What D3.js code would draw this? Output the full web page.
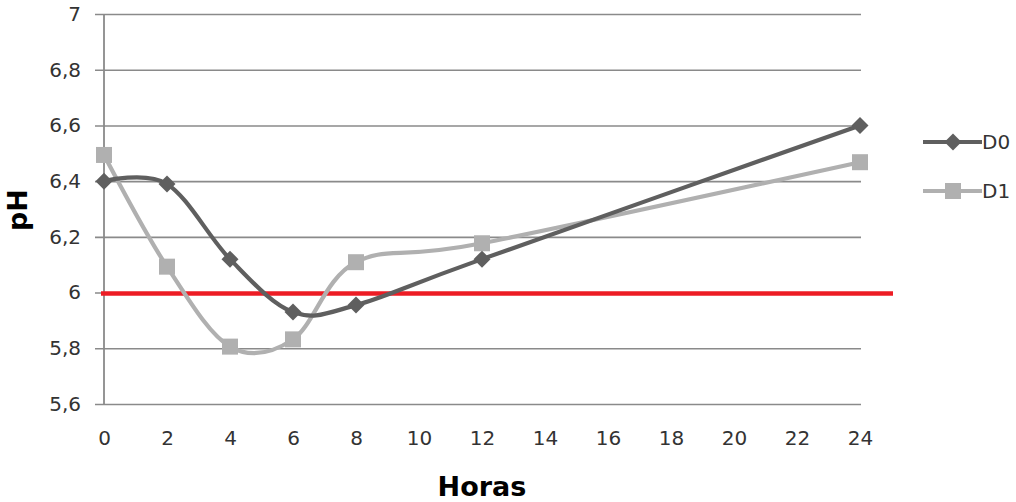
<!DOCTYPE html>
<html>
<head>
<meta charset="utf-8">
<script src="https://cdn.jsdelivr.net/npm/d3@7"></script>
<style>
  html, body { margin: 0; padding: 0; background: #fff; }
  svg { display: block; }
  text { font-family: "DejaVu Sans", Verdana, sans-serif; }
</style>
</head>
<body>
<svg id="chart" width="1016" height="502"></svg>
<script>
// pH readings over time (hours)
const hours = [0, 2, 4, 6, 8, 12, 24];
const d0 = [6.40, 6.39, 6.12, 5.93, 5.955, 6.12, 6.60];
const d1 = [6.494, 6.093, 5.806, 5.832, 6.109, 6.177, 6.468];
const seriesNames = ["D0", "D1"];
const xTicks = [0, 2, 4, 6, 8, 10, 12, 14, 16, 18, 20, 22, 24];
const yTicks = [5.6, 5.8, 6, 6.2, 6.4, 6.6, 6.8, 7];
const thresholdPH = 6;

const svg = d3.select("#chart");

const x = d3.scaleLinear().domain([0, 24]).range([104, 860]);
const y = d3.scaleLinear().domain([5.6, 7]).range([404, 14]);

const fmt = v => String(+v.toFixed(1)).replace(".", ",");

// horizontal gridlines with short outward ticks
const yAxis = d3.axisLeft(y)
  .tickValues(yTicks)
  .tickSize(-(860 - 104) - 1)
  .tickPadding(0)
  .tickFormat(fmt);

const gy = svg.append("g").attr("transform", "translate(104,0)").call(yAxis);
gy.select(".domain").remove();
gy.selectAll(".tick line")
  .attr("x1", -9)
  .attr("stroke", "#8a8a8a")
  .attr("stroke-width", 1.6);
gy.selectAll(".tick text")
  .attr("x", -23)
  .attr("fill", "#333")
  .style("font-size", "20px");

// vertical axis line
svg.append("line")
  .attr("x1", x(0)).attr("x2", x(0))
  .attr("y1", y(7)).attr("y2", y(5.6) + 0.5)
  .attr("stroke", "#8a8a8a")
  .attr("stroke-width", 1.8);

// x tick labels (no tick marks)
const xAxis = d3.axisBottom(x)
  .tickValues(xTicks)
  .tickSize(0)
  .tickPadding(27)
  .tickFormat(d => d);
const gx = svg.append("g").attr("transform", `translate(0,${y(5.6)})`).call(xAxis);
gx.select(".domain").remove();
gx.selectAll(".tick text")
  .attr("fill", "#333")
  .style("font-size", "20px");

// threshold line at pH 6
svg.append("line")
  .attr("x1", 101).attr("x2", 893)
  .attr("y1", y(thresholdPH) + 1).attr("y2", y(thresholdPH) + 1)
  .attr("stroke", "#ed1c24")
  .attr("stroke-width", 4.5);

const curve = d3.curveCardinal.tension(0);
const line = d3.line().curve(curve).x(d => x(d[0])).y(d => y(d[1]));

const series = [
  { name: seriesNames[0], values: d0, color: "#5f5f5f", marker: "diamond" },
  { name: seriesNames[1], values: d1, color: "#b0b0b0", marker: "square" }
];

function drawMarker(g, type, cx, cy, color) {
  if (type === "diamond") {
    const r = 8.5;
    g.append("path")
      .attr("d", `M${cx},${cy - r}L${cx + r},${cy}L${cx},${cy + r}L${cx - r},${cy}Z`)
      .attr("fill", color);
  } else {
    const s = 16;
    g.append("rect")
      .attr("x", cx - s / 2).attr("y", cy - s / 2)
      .attr("width", s).attr("height", s)
      .attr("fill", color);
  }
}

// draw D1 first so D0 sits on top where they overlap
[series[1], series[0]].forEach(s => {
  const pts = hours.map((h, i) => [h, s.values[i]]);
  const g = svg.append("g");
  g.append("path")
    .attr("d", line(pts))
    .attr("fill", "none")
    .attr("stroke", s.color)
    .attr("stroke-width", 4.2)
    .attr("stroke-linejoin", "round");
  pts.forEach(p => drawMarker(g, s.marker, x(p[0]), y(p[1]), s.color));
});

// legend
const legendY = [142, 191];
series.forEach((s, i) => {
  const g = svg.append("g");
  const ly = legendY[i];
  g.append("line")
    .attr("x1", 923).attr("x2", 982)
    .attr("y1", ly).attr("y2", ly)
    .attr("stroke", s.color)
    .attr("stroke-width", 4.2);
  drawMarker(g, s.marker, 953, ly, s.color);
  g.append("text")
    .attr("x", 982).attr("y", ly)
    .attr("dy", "0.36em")
    .attr("fill", "#333")
    .style("font-size", "20px")
    .text(s.name);
});

// axis titles
svg.append("text")
  .attr("transform", `translate(27,210) rotate(-90)`)
  .attr("text-anchor", "middle")
  .attr("fill", "#000")
  .style("font-size", "27px")
  .style("font-weight", "bold")
  .text("pH");

svg.append("text")
  .attr("x", 482).attr("y", 496)
  .attr("text-anchor", "middle")
  .attr("fill", "#000")
  .style("font-size", "27px")
  .style("font-weight", "bold")
  .text("Horas");
</script>
</body>
</html>
